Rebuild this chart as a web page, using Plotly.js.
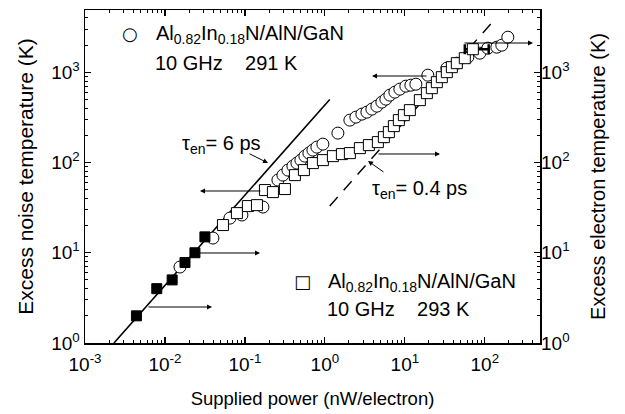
<!DOCTYPE html>
<html>
<head>
<meta charset="utf-8">
<script src="https://cdn.plot.ly/plotly-3.0.1.min.js"></script>
<style>html,body{margin:0;padding:0;background:#fff;}#chart{width:625px;height:414px;}</style>
</head>
<body>
<div id="chart"></div>
<script>
// Open circles: Al0.82In0.18N/AlN/GaN, 10 GHz, 291 K
const circX = [0.0154, 0.0398, 0.0649, 0.0917, 0.168, 0.2585, 0.2985, 0.3447, 0.398, 0.4467, 0.501, 0.562, 0.631, 0.708, 0.794, 0.944,
  1.454, 2.054, 2.441, 2.901, 3.35, 3.868, 4.467, 5.158, 5.788, 6.494, 7.499, 8.66, 10.29, 11.89, 13.73,
  19.39, 33.5, 44.7, 61.3, 86.6, 109.0, 141.3, 163.1, 193.9];
const circY = [6.95, 14.55, 24.2, 26.2, 32.1, 63.9, 72.5, 82.4, 91.2, 98.5, 106.3, 117.7, 127.1, 137.2, 148.1, 159.9,
  211.7, 294.8, 318.2, 343.6, 361.5, 390.3, 421.3, 466.6, 503.7, 557.8, 602, 649.8, 701.5, 719.5, 738,
  928.6, 1110, 1261, 1469, 1627, 1849, 1897, 1995, 2447];

// Open squares: Al0.82In0.18N/AlN/GaN, 10 GHz, 293 K
const sqX = [0.0531, 0.0794, 0.109, 0.1413, 0.1778, 0.2239, 0.3162, 0.4217, 0.5464, 0.7079, 0.944, 1.259, 1.632, 2.054,
  2.738, 3.548, 4.597, 5.464, 6.31, 7.29, 8.41, 9.716, 11.55, 15.4, 18.84, 21.75, 25.12, 29.0, 33.5, 38.7, 44.67, 56.2];
const sqY = [20.27, 27.5, 32.9, 33.7, 49.5, 47, 50.8, 72.5, 82.4, 98.5, 106.3, 117.7, 123.9, 127.1,
  144.4, 155.9, 168.2, 191.1, 217.1, 253.1, 294.8, 335, 380.5, 491, 586.9, 666.6, 777, 882.5, 1002.5, 1139, 1261, 1432];

// Square with horizontal error bar
const errX = [70.8];
const errY = [1800];
const errPlus = [41];
const errMinus = [14.6];

// Filled squares (electron temperature, right axis)
const fillX = [0.0044, 0.0079, 0.0123, 0.0178, 0.0237, 0.0316];
const fillY = [2.0, 4.0, 5.0, 7.8, 10, 15];

// Model lines
const line6X = [0.0023, 1.15];
const line6Y = [1, 500];
const line04X = [1.15, 126];
const line04Y = [33, 3650];

// Tick labels
const xTickVals = [0.001, 0.01, 0.1, 1, 10, 100];
const xTickText = ['10<sup>-3</sup>', '10<sup>-2</sup>', '10<sup>-1</sup>', '10<sup>0</sup>', '10<sup>1</sup>', '10<sup>2</sup>'];
const yTickVals = [1, 10, 100, 1000];
const yTickText = ['10<sup>0</sup>', '10<sup>1</sup>', '10<sup>2</sup>', '10<sup>3</sup>'];

const FONT = 'Liberation Sans, Arial, Helvetica, sans-serif';

const traces = [
  {x: line6X, y: line6Y, mode: 'lines', line: {color: '#000', width: 1.6}, hoverinfo: 'skip'},
  {x: line04X, y: line04Y, mode: 'lines', line: {color: '#000', width: 1.4, dash: '12px,9px'}, hoverinfo: 'skip'},
  {x: circX, y: circY, mode: 'markers', marker: {symbol: 'circle', size: 12, color: '#fff', line: {color: '#000', width: 1}}},
  {x: sqX, y: sqY, mode: 'markers', marker: {symbol: 'square', size: 11, color: '#fff', line: {color: '#000', width: 1}}},
  {x: errX, y: errY, mode: 'markers', marker: {symbol: 'square', size: 11, color: '#fff', line: {color: '#000', width: 1}},
   error_x: {type: 'data', symmetric: false, array: errPlus, arrayminus: errMinus, color: '#000', thickness: 2.5, width: 5}},
  {x: fillX, y: fillY, mode: 'markers', marker: {symbol: 'square', size: 10, color: '#000', line: {color: '#000', width: 1}}},
  {x: [1], y: [1], yaxis: 'y2', mode: 'markers', marker: {opacity: 0}, hoverinfo: 'skip'}
];

const arrowBase = {xref: 'paper', yref: 'paper', text: '', showarrow: true, arrowhead: 2, arrowsize: 1, arrowwidth: 1, arrowcolor: '#000', axref: 'pixel', ayref: 'pixel'};
const annotations = [
  // legend-like labels
  {xref: 'paper', yref: 'paper', x: 0.0989, y: 0.928, text: '○', showarrow: false, font: {size: 18, family: 'DejaVu Sans'}, xanchor: 'center', yanchor: 'middle'},
  {xref: 'paper', yref: 'paper', x: 0.152, y: 0.925, text: 'Al<sub>0.82</sub>In<sub>0.18</sub>N/AlN/GaN', showarrow: false, font: {size: 20, family: FONT}, xanchor: 'left', yanchor: 'middle'},
  {xref: 'paper', yref: 'paper', x: 0.150, y: 0.841, text: '10 GHz&nbsp;&nbsp;&nbsp;&nbsp;291 K', showarrow: false, font: {size: 20, family: FONT}, xanchor: 'left', yanchor: 'middle'},
  {xref: 'paper', yref: 'paper', x: 0.477, y: 0.186, text: '□', showarrow: false, font: {size: 18, family: 'DejaVu Sans'}, xanchor: 'center', yanchor: 'middle'},
  {xref: 'paper', yref: 'paper', x: 0.530, y: 0.183, text: 'Al<sub>0.82</sub>In<sub>0.18</sub>N/AlN/GaN', showarrow: false, font: {size: 20, family: FONT}, xanchor: 'left', yanchor: 'middle'},
  {xref: 'paper', yref: 'paper', x: 0.528, y: 0.102, text: '10 GHz&nbsp;&nbsp;&nbsp;&nbsp;293 K', showarrow: false, font: {size: 20, family: FONT}, xanchor: 'left', yanchor: 'middle'},
  {xref: 'paper', yref: 'paper', x: 0.2088, y: 0.595, text: 'τ<sub>en</sub>= 6 ps', showarrow: false, font: {size: 20, family: FONT}, xanchor: 'left', yanchor: 'middle'},
  {xref: 'paper', yref: 'paper', x: 0.626, y: 0.462, text: 'τ<sub>en</sub>= 0.4 ps', showarrow: false, font: {size: 20, family: FONT}, xanchor: 'left', yanchor: 'middle'},
  // axis-indicating arrows
  Object.assign({}, arrowBase, {x: 0.2527, y: 0.4565, ax: 62, ay: 0}),
  Object.assign({}, arrowBase, {x: 0.3846, y: 0.2703, ax: -62, ay: 0}),
  Object.assign({}, arrowBase, {x: 0.2791, y: 0.1081, ax: -65, ay: 0}),
  Object.assign({}, arrowBase, {x: 0.6308, y: 0.8018, ax: 56, ay: 0}),
  Object.assign({}, arrowBase, {x: 0.7802, y: 0.5676, ax: -63, ay: 0}),
  Object.assign({}, arrowBase, {x: 0.9846, y: 0.9009, ax: -70, ay: 0}),
  // pointers to the model lines
  Object.assign({}, arrowBase, {x: 0.4022, y: 0.5405, ax: -20, ay: -10}),
  Object.assign({}, arrowBase, {x: 0.622, y: 0.5465, ax: 17, ay: 12})
];

const axisCommon = {
  type: 'log', showline: true, linecolor: '#000', linewidth: 1.5, mirror: 'ticks',
  ticks: 'inside', ticklen: 6, tickwidth: 1.2, tickcolor: '#000',
  tickmode: 'array', showgrid: false, zeroline: false,
  tickfont: {family: FONT, size: 19, color: '#000'},
  minor: {ticks: 'inside', ticklen: 3, tickwidth: 1, tickcolor: '#000', showgrid: false, dtick: 'D1'}
};

const layout = {
  width: 625, height: 414,
  margin: {l: 85, r: 85, t: 10, b: 71},
  paper_bgcolor: '#fff', plot_bgcolor: '#fff',
  showlegend: false,
  font: {family: FONT, color: '#000'},
  xaxis: Object.assign({}, axisCommon, {
    range: [-3, 2.69], tickvals: xTickVals, ticktext: xTickText, ticklabelstandoff: 4,
    title: {text: 'Supplied power (nW/electron)', font: {family: FONT, size: 18.5, color: '#000'}, standoff: 18}
  }),
  yaxis: Object.assign({}, axisCommon, {
    range: [0, 3.69], tickvals: yTickVals, ticktext: yTickText,
    title: {text: 'Excess noise temperature (K)', font: {family: FONT, size: 21, color: '#000'}, standoff: 12}
  }),
  yaxis2: {
    type: 'log', overlaying: 'y', side: 'right', range: [0, 3.69],
    tickmode: 'array', tickvals: yTickVals, ticktext: yTickText,
    showline: false, ticks: '', showgrid: false, zeroline: false,
    tickfont: {family: FONT, size: 19, color: '#000'},
    title: {text: 'Excess electron temperature (K)', font: {family: FONT, size: 20, color: '#000'}, standoff: 22}
  },
  annotations: annotations
};

Plotly.newPlot('chart', traces, layout, {displayModeBar: false, staticPlot: true});
</script>
</body>
</html>
